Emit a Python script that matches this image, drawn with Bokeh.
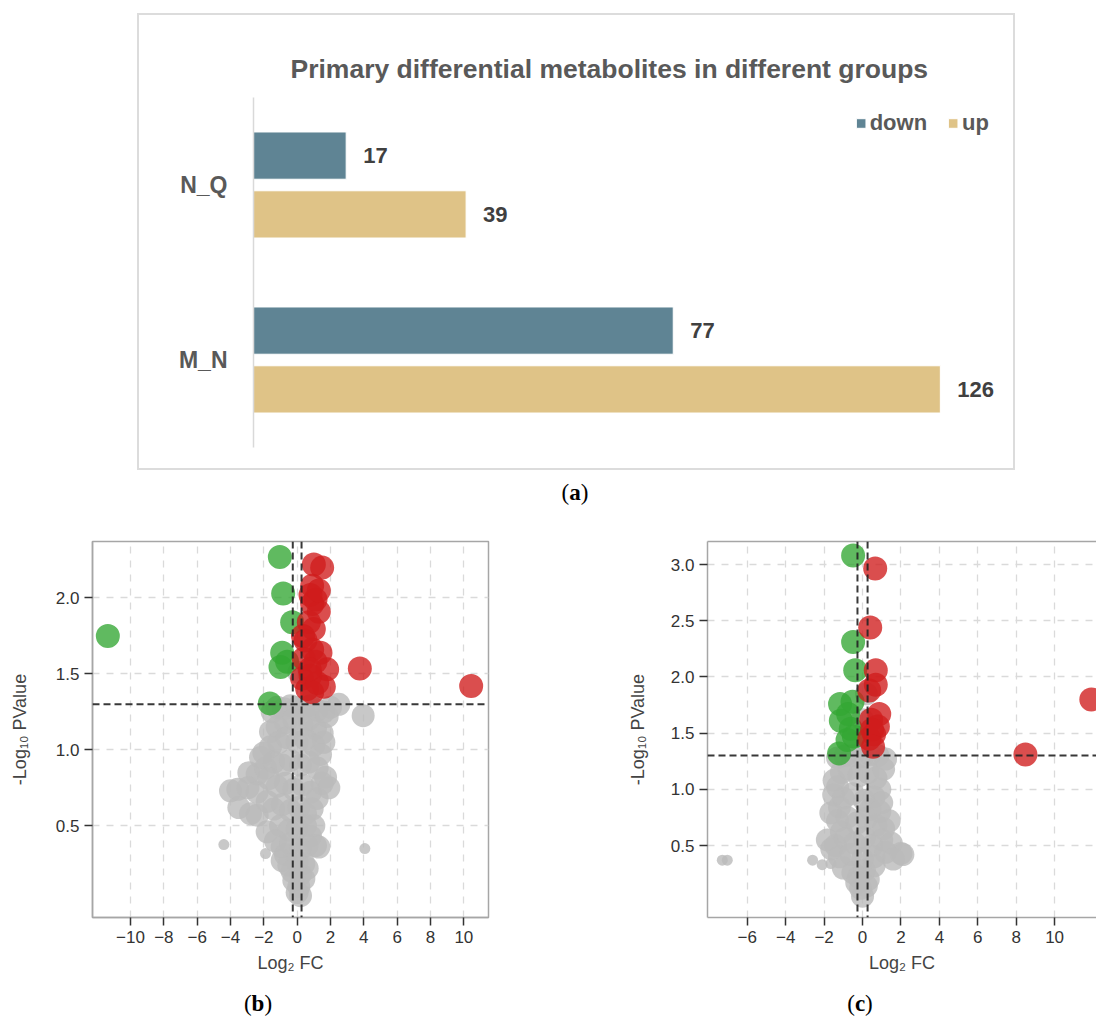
import math
from bokeh.plotting import figure
from bokeh.models import (FactorRange, Range1d, ColumnDataSource, Span, FixedTicker,
                          LinearAxis, Div, Spacer, Legend, PrintfTickFormatter)
from bokeh.layouts import column, row
from bokeh.transform import dodge
from bokeh.core.properties import value
from bokeh.embed import file_html
from bokeh.resources import INLINE

# ---------------- (a) counts of differential metabolites ----------------
groups = ["M_N", "N_Q"]
down_counts = [77, 17]
up_counts = [126, 39]

# ---------------- thresholds ----------------
FC_CUT = math.log2(1.2)
P_CUT = -math.log10(0.05)

# ---------------- (b) volcano ----------------
b_up_x = [1.0, 1.5, 0.9, 0.8, 1.1, 1.3, 0.9, 1.0, 0.7, 0.5, 0.9, 1.4, 0.4, 1.1, 1.8,
          3.76, 0.3, 0.8, 1.6, 10.44, 0.6, 0.9, 1.2, 0.75, 0.35, 1.3]
b_up_y = [2.22, 2.20, 2.08, 2.02, 1.99, 1.91, 1.96, 1.795, 1.84, 1.72, 1.66, 1.64, 1.60, 1.58, 1.53,
          1.535, 1.47, 1.49, 1.415, 1.42, 1.40, 1.38, 1.44, 1.53, 1.75, 2.05]
b_down_x = [-1.04, -0.84, -0.30, -11.36, -0.90, -1.00, -0.60, -1.64]
b_down_y = [2.27, 2.03, 1.84, 1.75, 1.64, 1.545, 1.58, 1.306]
b_ns_x = [-1.5, -1.2, -0.8, -0.4, 0.0, 0.4, 0.8, 1.2, 1.6, 2.0, 2.5, 3.96,
          -1.6, -1.2, -0.7, -0.2, 0.3, 0.7, 1.1, 1.5, 1.8,
          -2.0, -1.6, -1.1, -0.6, 0.0, 0.5, 1.0, 1.4, 1.6,
          -2.9, -2.4, -1.9, -1.4, -0.9, -0.4, 0.2, 0.7, 1.2, 1.7, -2.2,
          -4.0, -3.56, -2.95, -2.4, -1.7, -1.2, -0.7, -0.2, 0.3, 0.8, 1.2, 1.9, 1.5,
          -3.5, -2.8, -2.4, -1.4, -0.9, -0.4, 0.1, 0.5, 0.9, -1.8,
          -1.8, -1.0, -0.5, 0.0, 0.5, 1.0, -1.3, 0.8,
          -0.9, -0.4, 0.2, 0.6, 1.1, 1.3, -0.7,
          -0.9, -0.5, 0.0, 0.4, 0.6,
          -0.2, 0.2, 0.1, 0.4, -0.3,
          0.0, 0.2, 0.1]
b_ns_y = [1.25, 1.28, 1.27, 1.29, 1.28, 1.27, 1.29, 1.26, 1.25, 1.28, 1.30, 1.225,
          1.12, 1.15, 1.18, 1.20, 1.16, 1.20, 1.14, 1.11, 1.22,
          0.98, 1.02, 1.05, 1.08, 1.05, 1.07, 1.03, 0.97, 1.05,
          0.85, 0.84, 0.88, 0.92, 0.90, 0.93, 0.90, 0.92, 0.88, 0.82, 0.95,
          0.73, 0.74, 0.75, 0.72, 0.81, 0.76, 0.78, 0.74, 0.77, 0.72, 0.68, 0.75, 0.78,
          0.62, 0.58, 0.57, 0.61, 0.64, 0.60, 0.62, 0.58, 0.61, 0.66,
          0.46, 0.50, 0.47, 0.48, 0.50, 0.50, 0.40, 0.43,
          0.36, 0.38, 0.35, 0.37, 0.37, 0.36, 0.31,
          0.27, 0.24, 0.26, 0.25, 0.22,
          0.14, 0.18, 0.10, 0.15, 0.20,
          0.06, 0.04, 1.51]
b_ns_small_x = [-4.4, 4.06, -1.9]
b_ns_small_y = [0.376, 0.35, 0.317]

# ---------------- (c) volcano ----------------
c_up_x = [0.66, 0.40, 0.69, 0.69, 0.35, 0.87, 0.45, 0.80, 0.60, 0.35, 0.50, 0.55, 8.48, 11.91]
c_up_y = [2.965, 2.44, 2.06, 1.93, 1.88, 1.67, 1.62, 1.56, 1.49, 1.45, 1.53, 1.38, 1.31, 1.80]
c_down_x = [-0.49, -0.49, -0.38, -1.17, -0.52, -1.13, -0.61, -0.78, -0.45, -1.22, -0.75]
c_down_y = [3.08, 2.31, 2.06, 1.76, 1.78, 1.61, 1.54, 1.44, 1.47, 1.32, 1.67]
c_ns_x = [-1.3, -0.9, -0.5, 0.0, 0.4, 0.8, 1.2,
          -1.48, -1.1, -0.7, -0.2, 0.3, 0.7, 1.1, -1.3, 0.9,
          -1.5, -1.0, -0.5, 0.1, 0.6, 1.0, -1.2, 0.4, 0.9,
          -1.65, -1.3, -0.8, -0.3, 0.2, 0.7, 1.39, 1.1, -1.1,
          -1.83, -1.4, -0.9, -0.4, 0.1, 0.5, 1.0, 1.5, -1.6,
          -1.2, -0.6, 0.0, 0.6, 1.2, 2.0, 2.1, 1.6,
          -1.0, -0.5, 0.1, 0.6, -0.2, 0.3,
          -0.1, 0.2, 0.0, -0.3,
          0.2, 0.0]
c_ns_y = [1.28, 1.30, 1.30, 1.29, 1.31, 1.30, 1.27,
          1.08, 1.15, 1.18, 1.12, 1.15, 1.10, 1.18, 1.02, 1.00,
          0.95, 0.92, 0.96, 0.90, 0.93, 0.88, 0.84, 0.82, 0.80,
          0.79, 0.72, 0.75, 0.70, 0.74, 0.68, 0.72, 0.65, 0.62,
          0.55, 0.50, 0.56, 0.52, 0.57, 0.50, 0.55, 0.52, 0.47,
          0.40, 0.42, 0.38, 0.40, 0.44, 0.43, 0.42, 0.38,
          0.30, 0.26, 0.28, 0.32, 0.22, 0.20,
          0.12, 0.14, 0.05, 0.17,
          1.85, 1.62]
c_ns_small_x = [-7.04, -7.3, -2.6, -1.65, -2.1]
c_ns_small_y = [0.37, 0.37, 0.37, 0.34, 0.33]

SANS = "Liberation Sans"
RED = "#d01c1c"
GREEN = "#33a633"
GREY = "#bababa"
FRAME = "#a6a6a6"


# ---------------- (a) bar chart ----------------
src = ColumnDataSource(dict(group=groups, down=down_counts, up=up_counts,
                            down_lbl=[str(v) for v in down_counts],
                            up_lbl=[str(v) for v in up_counts]))

pa = figure(width=878, height=457, y_range=FactorRange(*groups), x_range=Range1d(0, 137.4),
            output_backend="svg", toolbar_location=None,
            min_border_left=114, min_border_right=15, min_border_top=82, min_border_bottom=25)
pa.styles = {"border": "2px solid #dcdcdc", "box-sizing": "border-box"}
pa.outline_line_color = None
pa.grid.grid_line_color = None
pa.xaxis.visible = False
pa.yaxis.axis_line_color = "#d9d9d9"
pa.yaxis.axis_line_width = 1.5
pa.yaxis.major_tick_line_color = None
pa.yaxis.minor_tick_line_color = None
pa.yaxis.major_label_standoff = 20
pa.yaxis.major_label_text_font = SANS
pa.yaxis.major_label_text_font_style = "bold"
pa.yaxis.major_label_text_font_size = "23px"
pa.yaxis.major_label_text_color = "#595959"

pa.title.text = "Primary differential metabolites in different groups"
pa.title.align = "left"
pa.title.offset = 37
pa.title.standoff = 27
pa.title.text_font = SANS
pa.title.text_font_size = "26.5px"
pa.title.text_font_style = "bold"
pa.title.text_color = "#595959"

r_down = pa.hbar(y=dodge("group", 0.168, range=pa.y_range), left=0, right="down", height=0.27,
                 source=src, fill_color="#5f8494", line_color="#ffffff", line_width=1)
r_up = pa.hbar(y=dodge("group", -0.168, range=pa.y_range), left=0, right="up", height=0.27,
               source=src, fill_color="#dfc387", line_color="#ffffff", line_width=1)
for col, off in (("down", 0.168), ("up", -0.168)):
    pa.text(x=col, y=dodge("group", off, range=pa.y_range), text=col + "_lbl", source=src,
            x_offset=17, text_align="left", text_baseline="middle",
            text_font=value(SANS), text_font_style="bold", text_font_size="22px",
            text_color="#404040")

legend = Legend(items=[("down", [r_down]), ("up", [r_up])], orientation="horizontal",
                location="top_right", margin=13, padding=0, spacing=20,
                glyph_width=12, glyph_height=12, label_standoff=3,
                label_text_font=SANS, label_text_font_style="bold",
                label_text_font_size="22px", label_text_color="#595959",
                border_line_color=None, background_fill_alpha=0)
pa.add_layout(legend)


# ---------------- volcano helper ----------------
def volcano(width, xr, yr, xticks, yticks, borders, up, down, ns, ns_small,
            open_right=False, ylabel_standoff=20):
    p = figure(width=width, height=470, x_range=Range1d(*xr), y_range=Range1d(*yr),
               output_backend="svg", toolbar_location=None,
               min_border_left=borders[0], min_border_right=borders[1],
               min_border_top=borders[2], min_border_bottom=borders[3])
    p.background_fill_color = "white"
    p.xaxis.ticker = FixedTicker(ticks=xticks)
    p.yaxis.ticker = FixedTicker(ticks=yticks)
    p.yaxis.formatter = PrintfTickFormatter(format="%.1f")
    p.xaxis.major_label_overrides = {t: "\u2212" + str(abs(t)) for t in xticks if t < 0}
    for ax in (p.xaxis, p.yaxis):
        ax.axis_line_color = FRAME
        ax.axis_line_width = 1.5
        ax.major_tick_line_color = "#333333"
        ax.major_tick_line_width = 1.5
        ax.major_tick_out = 8
        ax.major_tick_in = 0
        ax.minor_tick_line_color = None
        ax.major_label_text_font = SANS
        ax.major_label_text_font_size = "17px"
        ax.major_label_text_color = "#333333"
        ax.major_label_standoff = 5
        ax.axis_label_text_font = SANS
        ax.axis_label_text_font_size = "18px"
        ax.axis_label_text_font_style = "normal"
        ax.axis_label_text_color = "#444444"
    p.xaxis.axis_label = "Log\u2082 FC"
    p.yaxis.axis_label = "-Log\u2081\u2080 PValue"
    p.xaxis.axis_label_standoff = 7
    p.yaxis.axis_label_standoff = ylabel_standoff
    p.grid.grid_line_color = "#dadada"
    p.grid.grid_line_dash = "7 7"
    p.grid.grid_line_width = 1.3
    if open_right:
        p.outline_line_color = None
        top = LinearAxis(ticker=FixedTicker(ticks=[]), axis_line_color=FRAME, axis_line_width=1.5,
                         major_tick_line_color=None, minor_tick_line_color=None,
                         major_label_text_font_size="0px")
        p.add_layout(top, "above")
    else:
        p.outline_line_color = FRAME
        p.outline_line_width = 1.5

    p.scatter(ns[0], ns[1], size=23, fill_color=GREY, fill_alpha=0.8, line_color=None)
    p.scatter(ns_small[0], ns_small[1], size=11, fill_color=GREY, fill_alpha=0.8, line_color=None)
    p.scatter(down[0], down[1], size=24, fill_color=GREEN, fill_alpha=0.78, line_color=None)
    p.scatter(up[0], up[1], size=24, fill_color=RED, fill_alpha=0.78, line_color=None)

    dash = dict(line_color="#222222", line_width=2, line_dash="7 4", line_alpha=0.9)
    p.add_layout(Span(location=P_CUT, dimension="width", **dash))
    p.add_layout(Span(location=-FC_CUT, dimension="height", **dash))
    p.add_layout(Span(location=FC_CUT, dimension="height", **dash))
    return p


pb = volcano(520, (-12.28, 11.48), (-0.104, 2.372), list(range(-10, 11, 2)), [0.5, 1.0, 1.5, 2.0],
             (92, 32, 23, 67), (b_up_x, b_up_y), (b_down_x, b_down_y),
             (b_ns_x, b_ns_y), (b_ns_small_x, b_ns_small_y), ylabel_standoff=23)
pc = volcano(576, (-8.07, 12.18), (-0.14, 3.205), list(range(-6, 11, 2)),
             [0.5, 1.0, 1.5, 2.0, 2.5, 3.0],
             (187, 0, 26, 68), (c_up_x, c_up_y), (c_down_x, c_down_y),
             (c_ns_x, c_ns_y), (c_ns_small_x, c_ns_small_y), open_right=True)


def caption(letter, h):
    html = ('<span style="font-family:\'Liberation Serif\',serif;font-size:23px;color:#000;">'
            f'(<b>{letter}</b>)</span>')
    return Div(text=html, width=60, height=h,
               styles={"text-align": "center", "line-height": f"{h}px", "margin": "0"})


layout = column(
    Spacer(width=1096, height=13),
    row(Spacer(width=137, height=457), pa),
    row(Spacer(width=545, height=45), caption("a", 45)),
    row(pb, pc),
    row(Spacer(width=228, height=38), caption("b", 38), Spacer(width=542, height=38), caption("c", 38)),
)

open("out.html", "w").write(file_html(layout, INLINE, title="Differential metabolites"))
